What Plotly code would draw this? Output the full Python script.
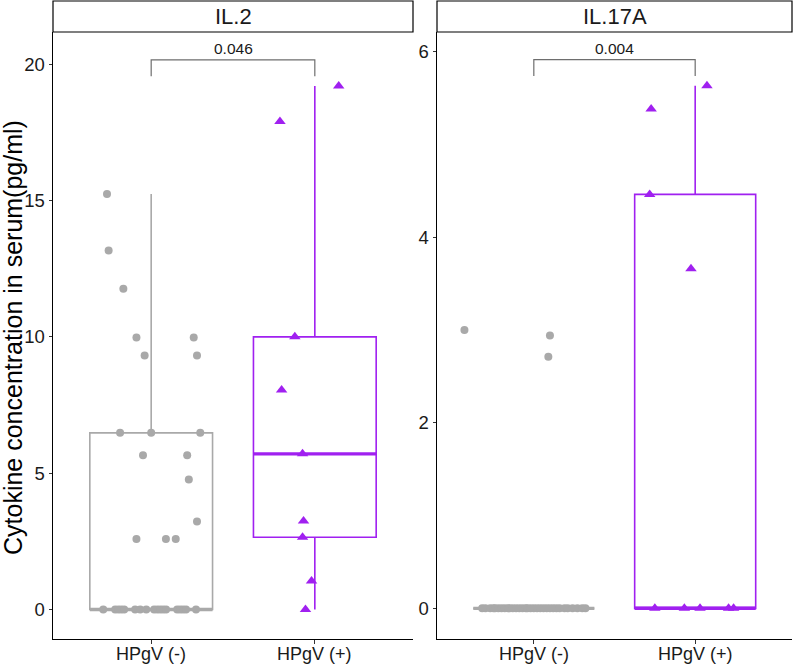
import numpy as np
import plotly.graph_objects as go

# ---------------- data ----------------
groups = ["HPgV (-)", "HPgV (+)"]
panels = ["IL.2", "IL.17A"]

il2_neg = [15.24, 13.17, 11.76, 9.98, 9.98, 9.32, 9.32, 6.48, 6.48, 6.48, 5.66, 5.66,
           4.77, 3.23, 2.59, 2.59, 2.59,
           0, 0, 0, 0, 0, 0, 0, 0, 0, 0, 0, 0, 0, 0, 0, 0, 0, 0]
il2_pos = [19.2, 17.9, 10.0, 8.05, 5.71, 3.25, 2.65, 1.05, 0.0]
il17_neg = [3.0, 2.94, 2.71,
            0, 0, 0, 0, 0, 0, 0, 0, 0, 0, 0, 0, 0, 0, 0, 0,
            0, 0, 0, 0, 0, 0, 0, 0, 0, 0, 0, 0, 0, 0, 0, 0]
il17_pos = [5.63, 5.38, 4.46, 3.66, 0, 0, 0, 0, 0]
p_values = ["0.046", "0.004"]
yticks_il2 = [0, 5, 10, 15, 20]
yticks_il17 = [0, 2, 4, 6]

# ---------------- jitter offsets (horizontal placement) ----------------
jit_il2_neg = [-0.27, -0.26, -0.17, -0.09, 0.26, -0.04, 0.28, -0.19, 0.00, 0.30, -0.05, 0.22,
               0.23, 0.28, -0.09, 0.09, 0.15,
               -0.293, -0.220, -0.201, -0.183, -0.165, -0.098, -0.067, -0.030, 0.018, 0.037,
               0.055, 0.073, 0.091, 0.159, 0.177, 0.195, 0.213, 0.274]
jit_il2_pos = [0.146, -0.213, -0.122, -0.203, -0.075, -0.069, -0.075, -0.02, -0.057]
jit_il17_neg = [-0.43, 0.10, 0.09,
                -0.32, -0.30, -0.27, -0.25, -0.24, -0.22, -0.20, -0.18, -0.16, -0.15, -0.13,
                -0.11, -0.09, -0.07, -0.05, -0.04, -0.02, 0.00, 0.02, 0.04, 0.06, 0.08, 0.10,
                0.12, 0.14, 0.16, 0.19, 0.21, 0.24, 0.27, 0.30, 0.32]
jit_il17_pos = [0.073, -0.273, -0.282, -0.026, -0.25, -0.067, 0.03, 0.207, 0.238]

GREY = "#A9A9A9"
PURPLE = "#A020F0"
FONT = "Liberation Sans, Arial, sans-serif"
TXT = "#1a1a1a"

W, H = 797, 664
# panel geometry in px
px_left = [(53, 413), (437, 792)]
py_top, py_bot = 32, 639

fig = go.Figure()


def box_stats(vals):
    v = np.array(vals, dtype=float)
    q1, med, q3 = np.percentile(v, [25, 50, 75])
    iqr = q3 - q1
    up = v[v <= q3 + 1.5 * iqr].max()
    lo = v[v >= q1 - 1.5 * iqr].min()
    return q1, med, q3, lo, up


def add_group(vals, jit, xpos, color, symbol, size, axis_suffix):
    xa = "x" + axis_suffix
    ya = "y" + axis_suffix
    q1, med, q3, lo, up = box_stats(vals)
    fig.add_trace(go.Box(
        x=[xpos], q1=[q1], median=[med], q3=[q3], lowerfence=[lo], upperfence=[up],
        width=0.75, whiskerwidth=0, boxpoints=False,
        line=dict(color=color, width=1.6), fillcolor="rgba(255,255,255,0)",
        xaxis=xa, yaxis=ya, showlegend=False, hoverinfo="skip"))
    # thicker median line (ggplot fatten)
    fig.add_trace(go.Scatter(
        x=[xpos - 0.375, xpos + 0.375], y=[med, med], mode="lines",
        line=dict(color=color, width=3.2), xaxis=xa, yaxis=ya,
        showlegend=False, hoverinfo="skip"))
    fig.add_trace(go.Scatter(
        x=[xpos + j for j in jit], y=vals, mode="markers",
        marker=dict(color=color, symbol=symbol, size=size, line=dict(width=0)),
        xaxis=xa, yaxis=ya, showlegend=False, hoverinfo="skip"))


add_group(il2_neg, jit_il2_neg, 1, GREY, "circle", 8, "")
add_group(il2_pos, jit_il2_pos, 2, PURPLE, "triangle-up", 10, "")
add_group(il17_neg, jit_il17_neg, 1, GREY, "circle", 8, "2")
add_group(il17_pos, jit_il17_pos, 2, PURPLE, "triangle-up", 10, "2")

# significance brackets
all_sets = [(il2_neg + il2_pos, "", [-1.08, 21.18]), (il17_neg + il17_pos, "2", [-0.33, 6.21])]
for i, (vals, suf, rng) in enumerate(all_sets):
    span = rng[1] - rng[0]
    top = max(vals) * 1.05
    leg = top - 0.027 * span
    fig.add_trace(go.Scatter(
        x=[1, 1, 2, 2], y=[leg, top, top, leg], mode="lines",
        line=dict(color="#6E6E6E", width=1.2), xaxis="x" + suf, yaxis="y" + suf,
        showlegend=False, hoverinfo="skip"))
    fig.add_annotation(x=1.5, y=top, xref="x" + suf, yref="y" + suf, text=p_values[i],
                       showarrow=False, yanchor="bottom", yshift=1,
                       font=dict(family=FONT, size=15.5, color=TXT))

ydom = [1 - py_bot / H, 1 - py_top / H]
axis_common = dict(showline=True, linecolor="black", linewidth=1, ticks="outside",
                   ticklen=3.5, tickcolor="#333333", tickwidth=1, showgrid=False,
                   zeroline=False, automargin=False)
TICKFONT = dict(family=FONT, size=18.5, color=TXT)

fig.update_layout(
    width=W, height=H, margin=dict(l=0, r=0, t=0, b=0),
    plot_bgcolor="white", paper_bgcolor="white",
    font=dict(family=FONT, color="black"),
    xaxis=dict(domain=[px_left[0][0] / W, px_left[0][1] / W], range=[0.4, 2.6],
               tickvals=[1, 2], showticklabels=False, anchor="y", **axis_common),
    yaxis=dict(domain=ydom, range=[-1.08, 21.18], tickvals=yticks_il2, anchor="x",
               tickfont=TICKFONT, **axis_common),
    xaxis2=dict(domain=[px_left[1][0] / W, px_left[1][1] / W], range=[0.4, 2.6],
                tickvals=[1, 2], showticklabels=False, anchor="y2", **axis_common),
    yaxis2=dict(domain=ydom, range=[-0.33, 6.21], tickvals=yticks_il17, anchor="x2",
                tickfont=TICKFONT, **axis_common),
)

# x category labels (placed just under the axis)
for suf in ["", "2"]:
    for k, g in enumerate(groups):
        fig.add_annotation(x=k + 1, xref="x" + suf, y=1 - 653.5 / H, yref="paper",
                           text=g, showarrow=False, xanchor="center", yanchor="middle",
                           font=dict(family=FONT, size=18, color=TXT))

# strip headers
for i, name in enumerate(panels):
    x0, x1 = px_left[i]
    fig.add_shape(type="rect", xref="paper", yref="paper",
                  x0=x0 / W, x1=x1 / W, y0=1 - py_top / H, y1=1 - 1 / H,
                  line=dict(color="black", width=1.2), fillcolor="white", layer="above")
    fig.add_annotation(xref="paper", yref="paper", x=(x0 + x1) / 2 / W,
                       y=1 - 16.5 / H, text=name, showarrow=False,
                       xanchor="center", yanchor="middle",
                       font=dict(family=FONT, size=22, color=TXT))

# y-axis title
fig.add_annotation(xref="paper", yref="paper", x=13 / W, y=1 - 338 / H,
                   text="Cytokine concentration in serum(pg/ml)", showarrow=False,
                   textangle=-90, xanchor="center", yanchor="middle",
                   font=dict(family=FONT, size=25, color="black"))

fig.write_html("out.html", post_script="document.body.style.margin='0';",
               config={"displayModeBar": False})
